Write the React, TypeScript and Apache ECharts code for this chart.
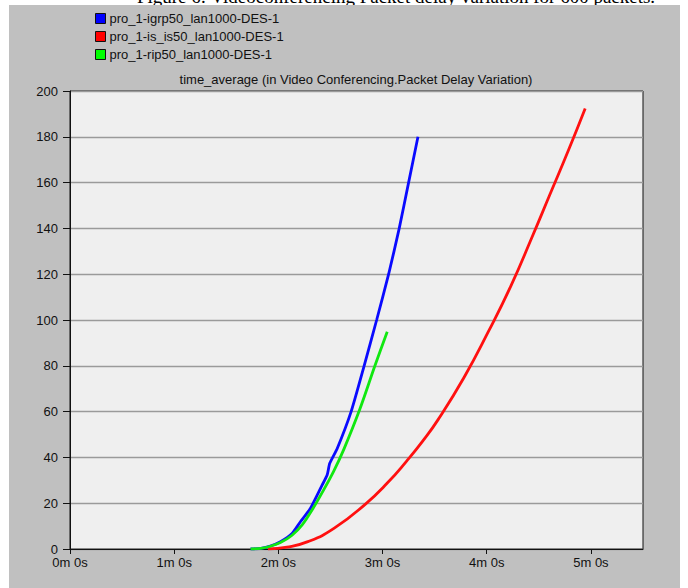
import React, { useEffect, useRef } from "react";
import * as echarts from "echarts";

const caption = "Figure 6: Videoconferencing Packet delay variation for 600 packets.";
const chartTitle = "time_average (in Video Conferencing.Packet Delay Variation)";
const seriesNames = [
  "pro_1-igrp50_lan1000-DES-1",
  "pro_1-is_is50_lan1000-DES-1",
  "pro_1-rip50_lan1000-DES-1",
];

// time in seconds
const igrpTime = [104, 110, 115.4, 121.2, 127.9, 132.7, 138.5, 145.2, 148.1, 149.6, 153.9, 161.9, 169.4, 176.6, 183.5, 189.6, 195.0, 200.4];
const igrpDelay = [0, 0.3, 1.3, 3.2, 6.8, 11.9, 17.8, 27.9, 32.3, 37.4, 43.9, 60, 80, 100, 120, 140, 160, 180];

const isisTime = [114, 125, 137, 152, 170, 183, 194, 203, 212, 227, 241, 254, 266, 276.5, 287, 296.7];
const isisDelay = [0, 0.8, 3.2, 9, 19.5, 29, 38.5, 47, 56.5, 75, 95, 115, 136, 155, 174, 192.4];

const ripTime = [104, 110, 115.4, 121.2, 127.9, 133.7, 139.4, 146.1, 151.9, 157.7, 166.9, 175.6, 182.7];
const ripDelay = [0, 0.3, 1.2, 2.8, 6.0, 10.5, 17, 25.8, 34, 43.5, 61, 80, 94.9];

const xTicks = [0, 60, 120, 180, 240, 300];

const zip = (t: number[], v: number[]) => t.map((x, i) => [x, v[i]]);

export default function App() {
  const ref = useRef<HTMLDivElement>(null);
  useEffect(() => {
    if (!ref.current) return;
    const chart = echarts.init(ref.current, undefined, { renderer: "svg" });
    const font = "'Liberation Sans', Arial, sans-serif";
    chart.setOption({
      animation: false,
      backgroundColor: "#ffffff",
      graphic: [
        {
          type: "text",
          z: -20,
          x: 396,
          y: -4,
          style: {
            text: caption,
            fontFamily: "'Liberation Serif', 'Times New Roman', serif",
            fontSize: 19,
            fill: "#000",
            align: "center",
            verticalAlign: "middle",
          },
        },
        {
          type: "rect",
          z: -10,
          shape: { x: 9, y: 5, width: 671, height: 583 },
          style: { fill: "#c0c0c0" },
        },
        {
          type: "text",
          x: 356,
          y: 79,
          style: {
            text: chartTitle,
            fontFamily: font,
            fontSize: 13,
            fill: "#111",
            align: "center",
            verticalAlign: "middle",
          },
        },
      ],
      legend: {
        orient: "vertical",
        left: 90,
        top: 7,
        itemWidth: 10,
        itemHeight: 10,
        itemGap: 5,
        icon: "rect",
        itemStyle: { borderColor: "#111", borderWidth: 1 },
        textStyle: { fontFamily: font, fontSize: 13, color: "#111", padding: [0, 0, 0, -1] },
        data: seriesNames,
      },
      grid: {
        left: 70,
        top: 91,
        right: 45,
        bottom: 39,
        show: true,
        backgroundColor: "#efefef",
        borderColor: "#111",
        borderWidth: 1,
      },
      xAxis: {
        type: "value",
        min: 0,
        max: 330,
        interval: 60,
        axisLine: { lineStyle: { color: "#111", width: 1 } },
        axisTick: { show: true, length: 5, lineStyle: { color: "#111" }, customValues: xTicks },
        splitLine: { show: false },
        axisLabel: {
          customValues: xTicks,
          fontFamily: font,
          fontSize: 13,
          color: "#111",
          margin: 7,
          formatter: (v: number) => `${Math.round(v / 60)}m 0s`,
        },
      },
      yAxis: {
        type: "value",
        min: 0,
        max: 200,
        interval: 20,
        axisLine: { show: true, lineStyle: { color: "#111", width: 1 } },
        axisTick: { show: true, length: 7, lineStyle: { color: "#111" } },
        splitLine: { show: true, lineStyle: { color: "#9a9a9a", width: 1.3 } },
        axisLabel: { fontFamily: font, fontSize: 13, color: "#111", margin: 12 },
      },
      series: [
        {
          name: seriesNames[0],
          type: "line",
          data: zip(igrpTime, igrpDelay),
          showSymbol: false,
          smooth: 0.2,
          color: "#0000ff",
          lineStyle: { width: 2.8, color: "#0a0aff" },
        },
        {
          name: seriesNames[1],
          type: "line",
          data: zip(isisTime, isisDelay),
          showSymbol: false,
          smooth: 0.5,
          color: "#ff0000",
          lineStyle: { width: 2.8, color: "#ff1010" },
        },
        {
          name: seriesNames[2],
          type: "line",
          data: zip(ripTime, ripDelay),
          showSymbol: false,
          smooth: 0.3,
          color: "#00ff00",
          lineStyle: { width: 2.8, color: "#10e810" },
        },
      ],
    });
    return () => chart.dispose();
  }, []);
  return (
    <div
      ref={ref}
      style={{ position: "fixed", left: 0, top: 0, width: 688, height: 588 }}
    />
  );
}
